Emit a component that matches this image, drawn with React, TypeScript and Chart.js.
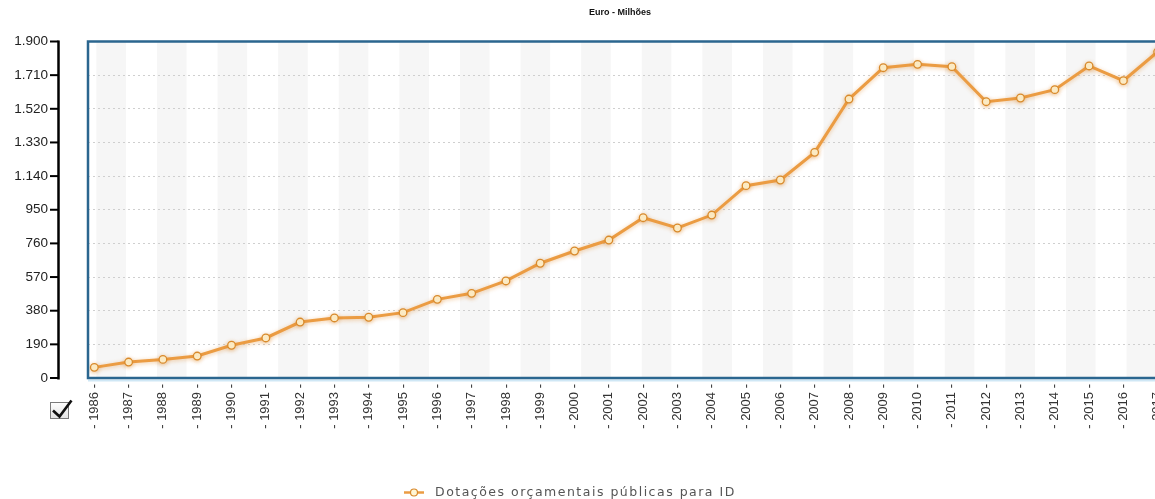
import { useEffect, useRef } from "react";
import { Chart, registerables } from "chart.js";

Chart.register(...registerables);

// Public R&D budget allocations, million euro
const years = [
  1986, 1987, 1988, 1989, 1990, 1991, 1992, 1993, 1994, 1995, 1996, 1997, 1998, 1999, 2000, 2001,
  2002, 2003, 2004, 2005, 2006, 2007, 2008, 2009, 2010, 2011, 2012, 2013, 2014, 2015, 2016, 2017,
];
const values = [
  60, 90, 105, 124, 185, 226, 316, 339, 343, 369, 444, 478, 548, 648, 717, 779,
  905, 847, 920, 1086, 1118, 1274, 1575, 1752, 1771, 1758, 1560, 1581, 1628, 1762, 1679, 1842,
];
const yStep = 190;
const yMax = 1900;

const titleText = "Euro - Milhões";
const seriesName = "Dotações orçamentais públicas para ID";

const FONT = 'Arial, "Liberation Sans", sans-serif';
const LINE = "#eb9c43";
const POINT_FILL = "#fff6d6";
const POINT_EDGE = "#d88a2c";
const FRAME = "#2b668f";

const groupThousands = (v: number) => String(v).replace(/\B(?=(\d{3})+(?!\d))/g, ".");

const decor = {
  id: "decor",
  beforeDraw(chart: any) {
    const { ctx, chartArea: a } = chart;
    ctx.save();
    ctx.fillStyle = "#f6f6f6";
    for (let x = a.left + 8.4; x < a.right; x += 60.6) {
      const x0 = Math.max(x, a.left);
      ctx.fillRect(x0, a.top, Math.min(29.5, a.right - x0), a.bottom - a.top);
    }
    ctx.restore();
  },
  beforeDatasetsDraw(chart: any) {
    const ctx = chart.ctx;
    ctx.save();
    ctx.shadowColor = "rgba(225, 135, 40, 0.45)";
    ctx.shadowBlur = 4;
    ctx.shadowOffsetY = 1;
  },
  afterDatasetsDraw(chart: any) {
    const { ctx, chartArea: a } = chart;
    ctx.restore();
    ctx.save();
    // plot frame
    ctx.strokeStyle = "#cfe7f5";
    ctx.lineWidth = 2;
    ctx.beginPath();
    ctx.moveTo(a.left, a.bottom + 2.5);
    ctx.lineTo(a.right, a.bottom + 2.5);
    ctx.stroke();
    ctx.strokeStyle = FRAME;
    ctx.lineWidth = 2.5;
    ctx.strokeRect(a.left, a.top, a.right - a.left, a.bottom - a.top);
    ctx.restore();
  },
  afterDraw(chart: any) {
    const { ctx, chartArea: a } = chart;
    const yScale = chart.scales.y;
    ctx.save();
    // title
    ctx.fillStyle = "#111";
    ctx.font = `bold 9px ${FONT}`;
    ctx.textAlign = "center";
    ctx.textBaseline = "middle";
    ctx.fillText(titleText, 620, 13);

    // detached value axis
    ctx.strokeStyle = "#000";
    ctx.lineWidth = 2.5;
    ctx.beginPath();
    ctx.moveTo(58.5, a.top - 1);
    ctx.lineTo(58.5, a.bottom + 1.5);
    ctx.stroke();
    ctx.lineWidth = 2;
    for (const t of yScale.ticks) {
      const y = yScale.getPixelForValue(t.value);
      ctx.beginPath();
      ctx.moveTo(50, y);
      ctx.lineTo(58.5, y);
      ctx.stroke();
    }

    // checkbox
    const g = ctx.createLinearGradient(0, 402, 0, 419);
    g.addColorStop(0, "#ffffff");
    g.addColorStop(1, "#e2e2e2");
    ctx.fillStyle = g;
    ctx.fillRect(50.5, 402.5, 18, 16);
    ctx.strokeStyle = "#7a7a7a";
    ctx.lineWidth = 1;
    ctx.strokeRect(50.5, 402.5, 18, 16);
    ctx.strokeStyle = "#111";
    ctx.lineWidth = 2.6;
    ctx.lineJoin = "miter";
    ctx.beginPath();
    ctx.moveTo(53, 410.5);
    ctx.lineTo(59.5, 416.5);
    ctx.lineTo(71.5, 400.5);
    ctx.stroke();

    // legend
    const ly = 492.5;
    ctx.strokeStyle = LINE;
    ctx.lineWidth = 2.5;
    ctx.beginPath();
    ctx.moveTo(404, ly);
    ctx.lineTo(424, ly);
    ctx.stroke();
    ctx.beginPath();
    ctx.arc(414, ly, 3.5, 0, Math.PI * 2);
    ctx.fillStyle = POINT_FILL;
    ctx.fill();
    ctx.strokeStyle = POINT_EDGE;
    ctx.lineWidth = 1.2;
    ctx.stroke();
    ctx.fillStyle = "#555";
    ctx.font = '12.5px "DejaVu Sans", Verdana, sans-serif';
    ctx.textBaseline = "middle";
    ctx.textAlign = "left";
    (ctx as any).letterSpacing = "1.5px";
    ctx.fillText(seriesName, 435, ly + 0.5);
    ctx.restore();
  },
};

export default function App() {
  const ref = useRef<HTMLCanvasElement | null>(null);

  useEffect(() => {
    const canvas = ref.current;
    if (!canvas) return;
    const chart = new Chart(canvas, {
      type: "line",
      data: {
        datasets: [
          {
            label: seriesName,
            data: years.map((yr, i) => ({ x: yr, y: values[i] })),
            borderColor: LINE,
            borderWidth: 3,
            pointRadius: 3.8,
            pointBorderWidth: 1.3,
            pointBackgroundColor: POINT_FILL,
            pointBorderColor: POINT_EDGE,
            tension: 0,
          },
        ],
      },
      options: {
        animation: false,
        responsive: false,
        events: [],
        layout: { padding: { left: 0, right: 76, top: 41.5, bottom: 0 } },
        plugins: {
          legend: { display: false },
          tooltip: { enabled: false },
          title: { display: false },
        },
        scales: {
          x: {
            type: "linear",
            min: years[0] - 0.184,
            max: years[years.length - 1] + 0.184,
            grid: { display: false, drawTicks: false },
            border: { display: false },
            afterBuildTicks: (s: any) => {
              s.ticks = years.map((v) => ({ value: v }));
            },
            ticks: {
              autoSkip: false,
              minRotation: 90,
              maxRotation: 90,
              padding: 6,
              color: "#333",
              font: { family: FONT, size: 13 },
              callback: (v: any) => `- ${v} -`,
            },
            afterFit: (s: any) => {
              s.height = 121;
              s.paddingLeft = 0;
              s.paddingRight = 0;
            },
          },
          y: {
            min: 0,
            max: yMax,
            grid: { color: "#cfcfcf", lineWidth: 1, drawTicks: false },
            border: { display: false, dash: [2, 3] },
            ticks: {
              stepSize: yStep,
              padding: 40,
              color: "#222",
              font: { family: FONT, size: 13.5 },
              callback: (v: any) => groupThousands(Number(v)),
            },
            afterFit: (s: any) => {
              s.width = 88;
              s.paddingTop = 0;
              s.paddingBottom = 0;
            },
          },
        },
      },
      plugins: [decor],
    });
    return () => chart.destroy();
  }, []);

  return (
    <div
      style={{
        position: "fixed",
        left: 0,
        top: 0,
        width: 1155,
        height: 499,
        overflow: "hidden",
        background: "#fff",
      }}
    >
      <canvas ref={ref} width={1240} height={499} style={{ display: "block" }} />
    </div>
  );
}
